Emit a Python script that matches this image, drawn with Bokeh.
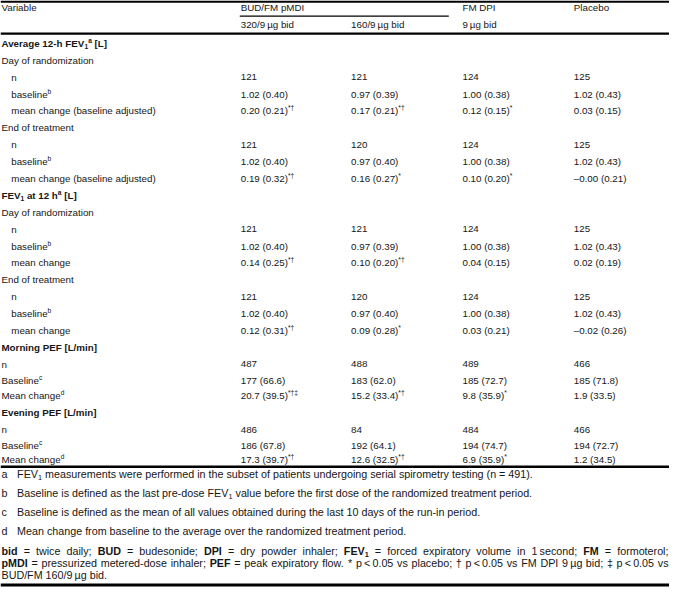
from bokeh.plotting import figure
from bokeh.models import Range1d, ColumnDataSource
from bokeh.embed import file_html
from bokeh.resources import INLINE
from bokeh.core.properties import value

# ---------------- data ----------------
treatments = ["BUD/FM pMDI", "FM DPI", "Placebo"]
doses = ["320/9\u2009µg bid", "160/9\u2009µg bid", "9\u2009µg bid"]

avg12_rand_n = [121, 121, 124, 125]
avg12_rand_base = [1.02, 0.97, 1.00, 1.02]
avg12_rand_base_sd = [0.40, 0.39, 0.38, 0.43]
avg12_rand_chg = [0.20, 0.17, 0.12, 0.03]
avg12_rand_chg_sd = [0.21, 0.21, 0.15, 0.15]
avg12_rand_sig = ["*†", "*†", "*", ""]

avg12_end_n = [121, 120, 124, 125]
avg12_end_base = [1.02, 0.97, 1.00, 1.02]
avg12_end_base_sd = [0.40, 0.40, 0.38, 0.43]
avg12_end_chg = [0.19, 0.16, 0.10, -0.00]
avg12_end_chg_sd = [0.32, 0.27, 0.20, 0.21]
avg12_end_sig = ["*†", "*", "*", ""]

fev12_rand_n = [121, 121, 124, 125]
fev12_rand_base = [1.02, 0.97, 1.00, 1.02]
fev12_rand_base_sd = [0.40, 0.39, 0.38, 0.43]
fev12_rand_chg = [0.14, 0.10, 0.04, 0.02]
fev12_rand_chg_sd = [0.25, 0.20, 0.15, 0.19]
fev12_rand_sig = ["*†", "*†", "", ""]

fev12_end_n = [121, 120, 124, 125]
fev12_end_base = [1.02, 0.97, 1.00, 1.02]
fev12_end_base_sd = [0.40, 0.40, 0.38, 0.43]
fev12_end_chg = [0.12, 0.09, 0.03, -0.02]
fev12_end_chg_sd = [0.31, 0.28, 0.21, 0.26]
fev12_end_sig = ["*†", "*", "", ""]

mpef_n = [487, 488, 489, 466]
mpef_base = [177, 183, 185, 185]
mpef_base_sd = [66.6, 62.0, 72.7, 71.8]
mpef_chg = [20.7, 15.2, 9.8, 1.9]
mpef_chg_sd = [39.5, 33.4, 35.9, 33.5]
mpef_sig = ["*†‡", "*†", "*", ""]

epef_n = [486, 84, 484, 466]
epef_base = [186, 192, 194, 194]
epef_base_sd = [67.8, 64.1, 74.7, 72.7]
epef_chg = [17.3, 12.6, 6.9, 1.2]
epef_chg_sd = [39.7, 32.5, 35.9, 34.5]
epef_sig = ["*†", "*†", "*", ""]

# ---------------- layout helpers ----------------
REF_W, REF_H = 685, 603
W, H = 669, 587
SX = W / REF_W
FS = 10.0   # table font size (reference px)
FN = 11.0   # footnote font size
SS = 0.68   # super/subscript scale
FONT = "Liberation Sans"
COLOR = "#161616"

REG = {' ': 278, '!': 278, '"': 355, '%': 889, '&': 667, "'": 191, '(': 333, ')': 333,
       '*': 389, '+': 584, ',': 278, '-': 333, '.': 278, '/': 278, ':': 278, ';': 278,
       '<': 584, '=': 584, '>': 584, '?': 556, '[': 278, ']': 278, 'µ': 556, '–': 556,
       '†': 556, '‡': 556, '\u2009': 200}
for c in "0123456789":
    REG[c] = 556
REG.update(dict(zip("ABCDEFGHIJKLMNOPQRSTUVWXYZ",
                    [667, 667, 722, 722, 667, 611, 778, 722, 278, 500, 667, 556, 833,
                     722, 778, 667, 778, 722, 667, 611, 722, 667, 944, 667, 667, 611])))
REG.update(dict(zip("abcdefghijklmnopqrstuvwxyz",
                    [556, 556, 500, 556, 556, 278, 556, 556, 222, 222, 500, 222, 833,
                     556, 556, 556, 556, 333, 500, 278, 556, 500, 722, 500, 500, 500])))
BLD = dict(REG)
BLD.update({'(': 333, ')': 333, '[': 333, ']': 333, ':': 333, ';': 333})
BLD.update(dict(zip("ABCDEFGHIJKLMNOPQRSTUVWXYZ",
                    [722, 722, 722, 722, 667, 611, 778, 722, 278, 556, 722, 611, 833,
                     722, 778, 667, 778, 722, 667, 611, 722, 667, 944, 667, 667, 611])))
BLD.update(dict(zip("abcdefghijklmnopqrstuvwxyz",
                    [556, 611, 556, 611, 556, 333, 611, 611, 278, 278, 556, 278, 889,
                     611, 611, 611, 611, 389, 556, 333, 611, 556, 778, 556, 556, 500])))


def tw(s, size, bold=False):
    t = BLD if bold else REG
    return sum(t.get(ch, 556) for ch in s) / 1000.0 * size


items = {False: [], True: []}


def part_geom(kind, size, yc):
    # returns (font size, vertical centre) for a run
    if kind == "sup":
        return size * SS, yc - 0.30 * size
    if kind == "sub":
        return size * SS, yc + 0.33 * size
    return size, yc


def put(x, yc, parts, size):
    for t, kind, bold in parts:
        s, y = part_geom(kind, size, yc)
        lead = len(t) - len(t.lstrip(" "))
        if lead:
            x += tw(t[:lead], s, bold)
            t = t[lead:]
        if t:
            items[bold].append((x, y, t, f"{s * SX:.2f}px"))
        x += tw(t, s, bold)
    return x


def parts_width(parts, size):
    return sum(tw(t, part_geom(k, size, 0)[0], b) for t, k, b in parts)


def N(t): return (t, "n", False)
def Bd(t): return (t, "n", True)
def SUP(t, b=False): return (t, "sup", b)
def SUB(t, b=False): return (t, "sub", b)


def fmt2(m, sd): return f"{m:.2f} ({sd:.2f})".replace("-", "–")
def fmt_b(m, sd): return f"{m:.0f} ({sd:.1f})"
def fmt_c(m, sd): return f"{m:.1f} ({sd:.1f})"


COLX = [246, 359, 473, 587]


def cells(texts, sigs=None):
    sigs = sigs or [""] * len(texts)
    return [[N(t), SUP(g)] for t, g in zip(texts, sigs)]


# ---------------- rows ----------------
STEP = 17.35
ys = [44 + STEP * k for k in range(20)] + [390, 406, 423.3, 440.7, 457, 471.7]

IND = 11
rows = [
    (1, [Bd("Average 12-h FEV"), SUB("1", True), SUP("a", True), Bd(" [L]")], None),
    (1, [N("Day of randomization")], None),
    (IND, [N("n")], cells([str(v) for v in avg12_rand_n])),
    (IND, [N("baseline"), SUP("b")], cells([fmt2(a, b) for a, b in zip(avg12_rand_base, avg12_rand_base_sd)])),
    (IND, [N("mean change (baseline adjusted)")], cells([fmt2(a, b) for a, b in zip(avg12_rand_chg, avg12_rand_chg_sd)], avg12_rand_sig)),
    (1, [N("End of treatment")], None),
    (IND, [N("n")], cells([str(v) for v in avg12_end_n])),
    (IND, [N("baseline"), SUP("b")], cells([fmt2(a, b) for a, b in zip(avg12_end_base, avg12_end_base_sd)])),
    (IND, [N("mean change (baseline adjusted)")], cells([fmt2(a, b) for a, b in zip(avg12_end_chg, avg12_end_chg_sd)], avg12_end_sig)),
    (1, [Bd("FEV"), SUB("1", True), Bd(" at 12 h"), SUP("a", True), Bd(" [L]")], None),
    (1, [N("Day of randomization")], None),
    (IND, [N("n")], cells([str(v) for v in fev12_rand_n])),
    (IND, [N("baseline"), SUP("b")], cells([fmt2(a, b) for a, b in zip(fev12_rand_base, fev12_rand_base_sd)])),
    (IND, [N("mean change")], cells([fmt2(a, b) for a, b in zip(fev12_rand_chg, fev12_rand_chg_sd)], fev12_rand_sig)),
    (1, [N("End of treatment")], None),
    (IND, [N("n")], cells([str(v) for v in fev12_end_n])),
    (IND, [N("baseline"), SUP("b")], cells([fmt2(a, b) for a, b in zip(fev12_end_base, fev12_end_base_sd)])),
    (IND, [N("mean change")], cells([fmt2(a, b) for a, b in zip(fev12_end_chg, fev12_end_chg_sd)], fev12_end_sig)),
    (1, [Bd("Morning PEF [L/min]")], None),
    (1, [N("n")], cells([str(v) for v in mpef_n])),
    (1, [N("Baseline"), SUP("c")], cells([fmt_b(a, b) for a, b in zip(mpef_base, mpef_base_sd)])),
    (1, [N("Mean change"), SUP("d")], cells([fmt_c(a, b) for a, b in zip(mpef_chg, mpef_chg_sd)], mpef_sig)),
    (1, [Bd("Evening PEF [L/min]")], None),
    (1, [N("n")], cells([str(v) for v in epef_n])),
    (1, [N("Baseline"), SUP("c")], cells([fmt_b(a, b) for a, b in zip(epef_base, epef_base_sd)])),
    (1, [N("Mean change"), SUP("d")], cells([fmt_c(a, b) for a, b in zip(epef_chg, epef_chg_sd)], epef_sig)),
]

for (ind, label, vals), y in zip(rows, ys):
    put(ind, y, label, FS)
    if vals:
        for cx, v in zip(COLX, vals):
            put(cx, y, v, FS)

# header
put(1, 7.3, [N("Variable")], FS)
put(COLX[0], 7.3, [N(treatments[0])], FS)
put(COLX[2], 7.3, [N(treatments[1])], FS)
put(COLX[3], 7.3, [N(treatments[2])], FS)
for cx, d in zip(COLX[:3], doses):
    put(cx, 24.5, [N(d)], FS)

# footnotes
foot = [
    ("a", 486.5, [N("FEV"), SUB("1"), N(" measurements were performed in the subset of patients undergoing serial spirometry testing (n = 491).")]),
    ("b", 506, [N("Baseline is defined as the last pre-dose FEV"), SUB("1"), N(" value before the first dose of the randomized treatment period.")]),
    ("c", 525.5, [N("Baseline is defined as the mean of all values obtained during the last 10 days of the run-in period.")]),
    ("d", 545, [N("Mean change from baseline to the average over the randomized treatment period.")]),
]
for letter, y, parts in foot:
    put(1, y, [N(letter)], FN)
    put(17, y, parts, FN)

line1 = [[Bd("bid")], [N("=")], [N("twice")], [N("daily;")], [Bd("BUD")], [N("=")],
         [N("budesonide;")], [Bd("DPI")], [N("=")], [N("dry")], [N("powder")], [N("inhaler;")],
         [Bd("FEV"), SUB("1", True)], [N("=")], [N("forced")], [N("expiratory")], [N("volume")],
         [N("in")], [N("1\u2009second;")], [Bd("FM")], [N("=")], [N("formoterol;")]]
line2 = [[Bd("pMDI")], [N("=")], [N("pressurized")], [N("metered-dose")], [N("inhaler;")],
         [Bd("PEF")], [N("=")], [N("peak")], [N("expiratory")], [N("flow.")], [N("*")],
         [N("p\u2009<\u20090.05")], [N("vs")], [N("placebo;")], [N("†")], [N("p\u2009<\u20090.05")],
         [N("vs")], [N("FM")], [N("DPI")], [N("9\u2009µg")], [N("bid;")], [N("‡")],
         [N("p\u2009<\u20090.05")], [N("vs")]]


def justified(tokens, y, x0, x1, size):
    widths = [parts_width(t, size) for t in tokens]
    gap = (x1 - x0 - sum(widths)) / (len(tokens) - 1)
    x = x0
    for t, w in zip(tokens, widths):
        put(x, y, t, size)
        x += w + gap


justified(line1, 565.5, 1, 684, FN)
justified(line2, 578, 1, 684, FN)
put(1, 590.5, [N("BUD/FM 160/9\u2009µg bid.")], FN)

# rules
rules_x0 = [0, 245, 0, 0, 0]
rules_x1 = [685, 459, 685, 685, 685]
rules_y = [1.2, 16, 34, 479, 600.5]
rules_w = [2.4, 1.1, 2.4, 2.4, 3.0]

# ---------------- figure ----------------
p = figure(width=W, height=H, x_range=Range1d(0, REF_W), y_range=Range1d(REF_H, 0),
           x_axis_type=None, y_axis_type=None, toolbar_location=None,
           output_backend="svg", min_border=0, outline_line_color=None,
           background_fill_color="white", border_fill_color="white")
p.xgrid.visible = False
p.ygrid.visible = False

p.segment(x0=rules_x0, y0=rules_y, x1=rules_x1, y1=rules_y, line_width=rules_w,
          line_color="#000000")

for bold, lst in items.items():
    if not lst:
        continue
    src = ColumnDataSource(dict(x=[i[0] for i in lst], y=[i[1] for i in lst],
                                text=[i[2] for i in lst], fs=[i[3] for i in lst]))
    p.text(x="x", y="y", text="text", source=src, text_font=value(FONT),
           text_font_size="fs", text_font_style="bold" if bold else "normal",
           text_align="left", text_baseline="middle", text_color=COLOR)

open("out.html", "w").write(file_html(p, INLINE))
